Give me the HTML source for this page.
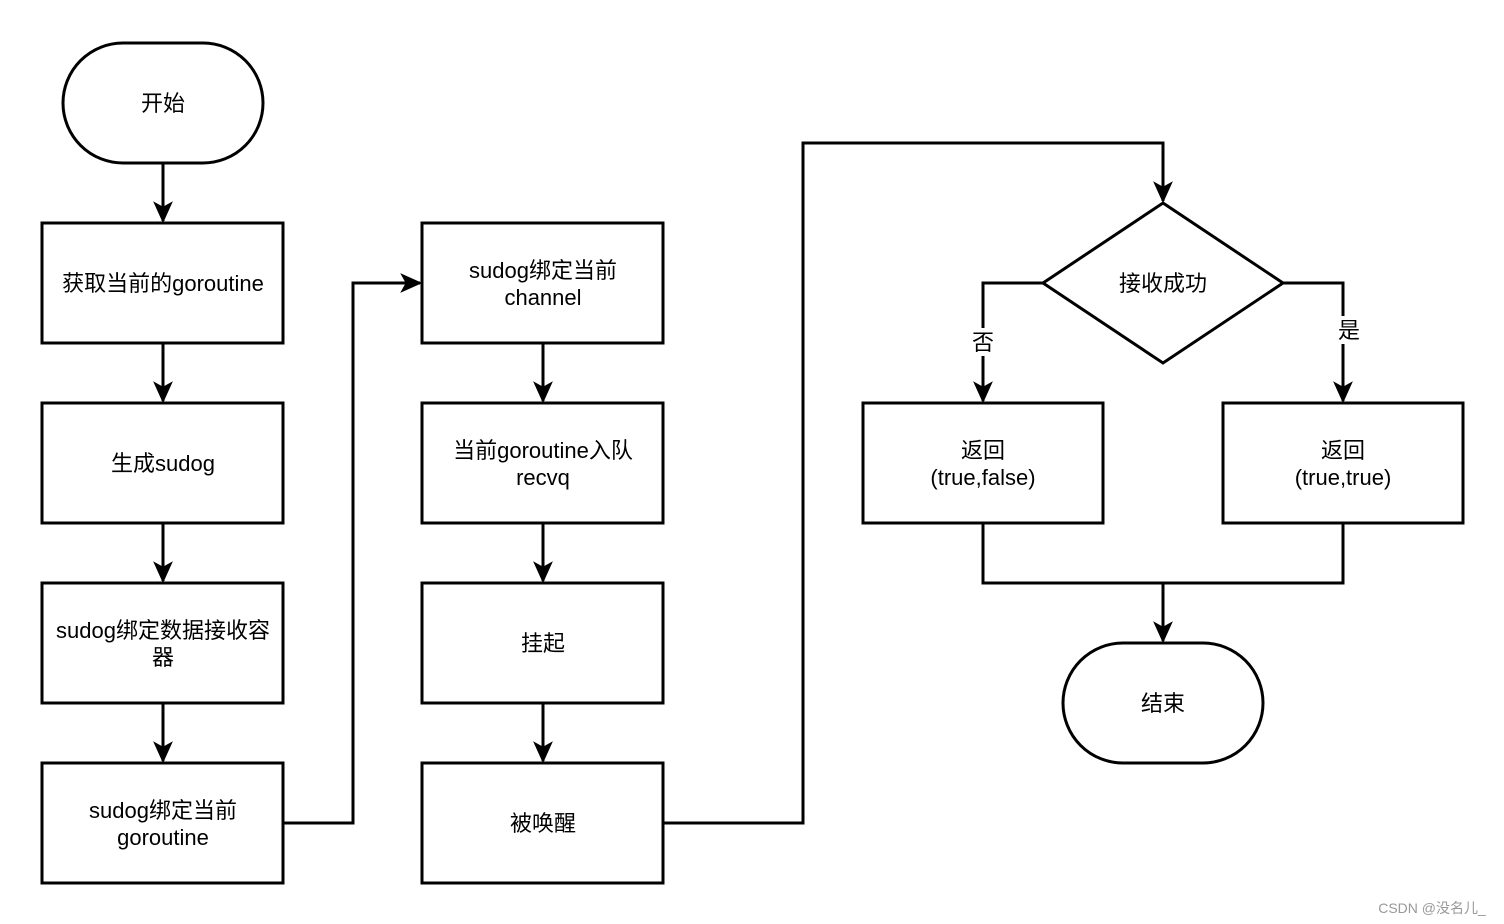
<!DOCTYPE html>
<html><head><meta charset="utf-8"><style>
html,body{margin:0;padding:0;background:#fff;}
svg{display:block;}
text{font-family:"Liberation Sans","Noto Sans CJK SC",sans-serif;font-size:22px;fill:#000;text-anchor:middle;}
</style></head><body>
<svg width="1504" height="924" viewBox="0 0 1504 924" xmlns="http://www.w3.org/2000/svg">
<defs>
<marker id="a" markerWidth="10" markerHeight="10" refX="8" refY="5" orient="auto" markerUnits="userSpaceOnUse">
<path d="M0,0 L10,5 L0,10 L3,5 Z" fill="#000"/>
</marker>
<marker id="b" viewBox="0 0 20 20" markerWidth="22" markerHeight="22" refX="18" refY="10" orient="auto" markerUnits="userSpaceOnUse">
<path d="M0,1 L20,10 L0,19 L5,10 Z" fill="#000"/>
</marker>
</defs>
<g fill="none" stroke="#000" stroke-width="3">
<rect x="63" y="43" width="200" height="120" rx="60" ry="60"/>
<rect x="42" y="223" width="241" height="120"/>
<rect x="42" y="403" width="241" height="120"/>
<rect x="42" y="583" width="241" height="120"/>
<rect x="42" y="763" width="241" height="120"/>
<rect x="422" y="223" width="241" height="120"/>
<rect x="422" y="403" width="241" height="120"/>
<rect x="422" y="583" width="241" height="120"/>
<rect x="422" y="763" width="241" height="120"/>
<polygon points="1163,203 1283,283 1163,363 1043,283"/>
<rect x="863" y="403" width="240" height="120"/>
<rect x="1223" y="403" width="240" height="120"/>
<rect x="1063" y="643" width="200" height="120" rx="60" ry="60"/>

<path d="M163,163 V221" marker-end="url(#b)"/>
<path d="M163,343 V401" marker-end="url(#b)"/>
<path d="M163,523 V581" marker-end="url(#b)"/>
<path d="M163,703 V761" marker-end="url(#b)"/>
<path d="M283,823 H353 V283 H420" marker-end="url(#b)"/>
<path d="M543,343 V401" marker-end="url(#b)"/>
<path d="M543,523 V581" marker-end="url(#b)"/>
<path d="M543,703 V761" marker-end="url(#b)"/>
<path d="M663,823 H803 V143 H1163 V201" marker-end="url(#b)"/>
<path d="M1043,283 H983 V401" marker-end="url(#b)"/>
<path d="M1283,283 H1343 V401" marker-end="url(#b)"/>
<path d="M983,523 V583 H1343 V523"/>
<path d="M1163,583 V641" marker-end="url(#b)"/>
</g>
<rect x="970" y="328" width="26" height="28" fill="#fff"/>
<rect x="1336" y="316" width="26" height="28" fill="#fff"/>
<text x="163" y="111">开始</text>
<text x="163" y="291">获取当前的goroutine</text>
<text x="163" y="471">生成sudog</text>
<text x="163" y="638">sudog绑定数据接收容</text>
<text x="163" y="665">器</text>
<text x="163" y="818">sudog绑定当前</text>
<text x="163" y="845">goroutine</text>
<text x="543" y="278">sudog绑定当前</text>
<text x="543" y="305">channel</text>
<text x="543" y="458">当前goroutine入队</text>
<text x="543" y="485">recvq</text>
<text x="543" y="651">挂起</text>
<text x="543" y="831">被唤醒</text>
<text x="1163" y="291">接收成功</text>
<text x="983" y="350">否</text>
<text x="1349" y="338">是</text>
<text x="983" y="458">返回</text>
<text x="983" y="485">(true,false)</text>
<text x="1343" y="458">返回</text>
<text x="1343" y="485">(true,true)</text>
<text x="1163" y="711">结束</text>
<text x="1432" y="913" style="font-size:14px;fill:#999">CSDN @没名儿_</text>
</svg>
</body></html>
